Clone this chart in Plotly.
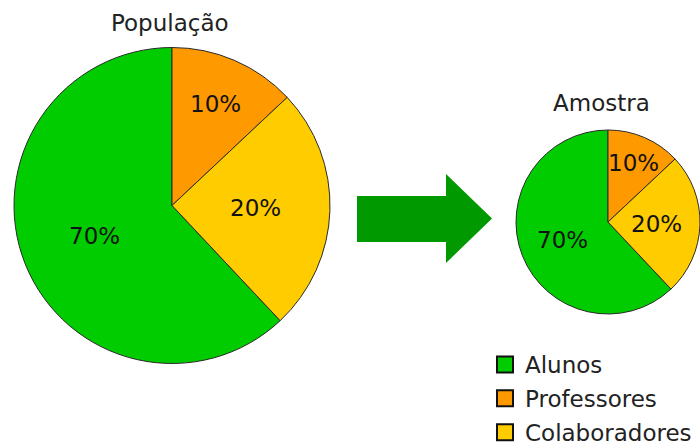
import math
import plotly.graph_objects as go

categories = ["Alunos", "Professores", "Colaboradores"]
populacao_values = [62, 13, 25]
amostra_values = [62, 13, 25]
slice_labels = ["70%", "10%", "20%"]
pie_titles = ["População", "Amostra"]
colors = ["#00CC00", "#FF9900", "#FFCC00"]

W, H = 700, 445
FONT = "DejaVu Sans"
FS = 23

def px(xp, yp):
    """page pixel -> paper coordinates"""
    return xp / W, 1 - yp / H

def px_dom(cx, cy, r):
    x0, y1 = px(cx - r, cy - r)
    x1, y0 = px(cx + r, cy + r)
    return dict(x=[max(0.0, x0), min(1.0, x1)], y=[max(0.0, y0), min(1.0, y1)])

def start_rotation(vals):
    # Alunos is drawn clockwise from here, ending at 12 o'clock
    return 360.0 * sum(vals[1:]) / sum(vals)

fig = go.Figure()

pies = [
    (populacao_values, pie_titles[0], (172, 205.5, 158), (170, 23)),
    (amostra_values, pie_titles[1], (608, 222, 92), (601, 103)),
]
for vals, title, (cx, cy, r), (tx, ty) in pies:
    rot = start_rotation(vals)
    fig.add_trace(go.Pie(
        labels=categories,
        values=vals,
        text=slice_labels,
        textinfo="none",
        marker=dict(colors=colors, line=dict(color="#2a2a2a", width=1)),
        sort=False,
        direction="clockwise",
        rotation=rot,
        domain=px_dom(cx, cy, r),
        showlegend=False,
        hoverinfo="label+text",
    ))
    # slice labels placed at each slice's mid-angle
    total = sum(vals)
    a0 = rot
    for v, lab in zip(vals, slice_labels):
        share = v / total
        mid = math.radians(a0 + 180.0 * share)
        a0 += 360.0 * share
        k = 0.7 if share < 0.15 else 0.53
        lx = cx + k * r * math.sin(mid)
        ly = cy - k * r * math.cos(mid)
        ax, ay = px(lx, ly)
        fig.add_annotation(
            text=lab, x=ax, y=ay, xref="paper", yref="paper",
            xanchor="center", yanchor="middle", showarrow=False,
            font=dict(family=FONT, size=FS, color="#111"),
        )
    ax, ay = px(tx, ty)
    fig.add_annotation(
        text=title, x=ax, y=ay, xref="paper", yref="paper",
        xanchor="center", yanchor="middle", showarrow=False,
        font=dict(family=FONT, size=FS, color="#222"),
    )

# legend entries
for name, col in zip(categories, colors):
    fig.add_trace(go.Scatter(
        x=[None], y=[None], mode="markers", name=name,
        marker=dict(symbol="square", size=16, color=col, line=dict(color="#111", width=2)),
        legendgroup=name,
    ))

# arrow between the two pies (page pixels)
arrow_pts = [(357, 196), (446, 196), (446, 174), (492, 218.5), (446, 263), (446, 242), (357, 242)]
path = "M " + " L ".join("%.5f,%.5f" % px(x, y) for x, y in arrow_pts) + " Z"
fig.add_shape(type="path", xref="paper", yref="paper", path=path,
              fillcolor="#009900", line=dict(width=0))

lx, ly = px(485, 343)
fig.update_layout(
    width=W, height=H,
    margin=dict(l=0, r=0, t=0, b=0, autoexpand=False),
    paper_bgcolor="white", plot_bgcolor="white",
    xaxis=dict(visible=False), yaxis=dict(visible=False),
    font=dict(family=FONT, size=FS, color="#222"),
    legend=dict(
        x=lx, y=ly, xanchor="left", yanchor="top",
        font=dict(family=FONT, size=FS, color="#222"),
        traceorder="grouped", tracegroupgap=1,
        bgcolor="rgba(0,0,0,0)",
    ),
)

fig.write_html(
    "out.html",
    config={"displayModeBar": False},
    post_script="document.body.style.margin='0';document.body.style.overflow='hidden';",
)
